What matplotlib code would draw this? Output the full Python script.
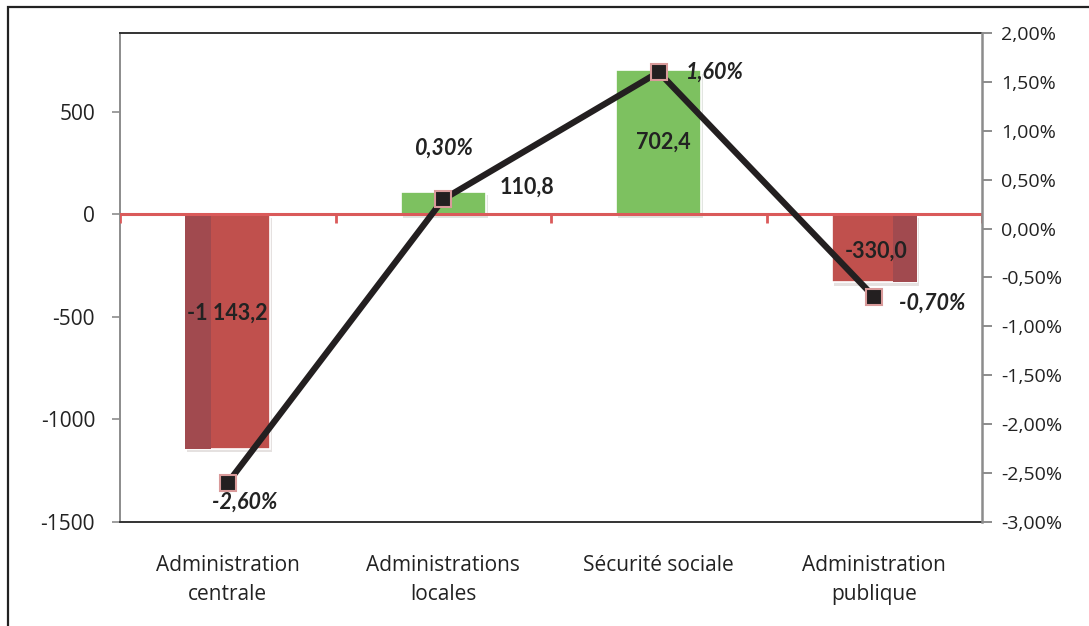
import matplotlib
matplotlib.use("Agg")
import matplotlib.pyplot as plt
import matplotlib.patheffects as pe
from matplotlib.patches import Rectangle

categories = ["Administration\ncentrale", "Administrations\nlocales",
              "Sécurité sociale", "Administration\npublique"]
montants = [-1143.2, 110.8, 702.4, -330.0]
montant_labels = ["-1 143,2", "110,8", "702,4", "-330,0"]
taux = [-2.60, 0.30, 1.60, -0.70]
taux_labels = ["-2,60%", "0,30%", "1,60%", "-0,70%"]
left_ticks = [500, 0, -500, -1000, -1500]
left_tick_labels = ["500", "0", "-500", "-1000", "-1500"]
right_ticks = [2.0, 1.5, 1.0, 0.5, 0.0, -0.5, -1.0, -1.5, -2.0, -2.5, -3.0]

RED = "#C0504D"
RED_DARK = "#A14A4F"
GREEN = "#7DC160"
AXIS_RED = "#DA5A5A"

plt.rcParams["font.family"] = ["Open Sans", "DejaVu Sans"]

fig = plt.figure(figsize=(10.89, 6.26), dpi=100)
# cadre extérieur
fig.patches.append(Rectangle((8 / 1089, -0.05), 1.1, 1 - 7 / 626 + 0.05,
                             transform=fig.transFigure, fill=False,
                             edgecolor="#222222", linewidth=1.6))

ax = fig.add_axes([120 / 1089, 1 - 522 / 626, 862 / 1089, 489 / 626])
ax2 = ax.twinx()
ax.set_zorder(ax2.get_zorder() - 1)
ax.patch.set_visible(True)
ax2.patch.set_visible(False)

x = list(range(len(categories)))
width = 0.395
colors = [GREEN if v > 0 else RED for v in montants]
shadow = [pe.SimplePatchShadow(offset=(1.5, -2.5), alpha=0.13), pe.Normal()]
bars = ax.bar(x, montants, width=width, color=colors, edgecolor="white",
              linewidth=1.2, zorder=2)
for b in bars:
    b.set_path_effects(shadow)
# parties plus sombres des barres rouges
ax.bar(x[0] - width / 2 + 0.06, montants[0], width=0.12, color=RED_DARK, zorder=2.1)
ax.bar(x[3] + width / 2 - 0.055, montants[3], width=0.11, color=RED_DARK, zorder=2.1)

ax.set_xlim(-0.5, 3.5)
ax.set_ylim(-1500, 885)
ax.set_yticks(left_ticks)
ax.set_yticklabels(left_tick_labels, fontsize=15, color="#222222")
ax.tick_params(axis="y", length=6, width=1.2, color="#8C8C8C", pad=12)
ax.set_xticks(x)
ax.set_xticklabels(categories, fontsize=15, color="#222222", linespacing=1.45)
ax.tick_params(axis="x", length=0, pad=24)

ax.axhline(0, color=AXIS_RED, linewidth=2.2, zorder=3)
ax.vlines([-0.5, 0.5, 1.5, 2.5, 3.5], -40, 0, color=AXIS_RED, linewidth=2, zorder=3)

for side in ["top", "bottom"]:
    ax.spines[side].set_color("#333333")
    ax.spines[side].set_linewidth(1.4)
ax.spines["left"].set_color("#8C8C8C")
ax.spines["left"].set_linewidth(1.4)
for side in ["top", "bottom", "left"]:
    ax2.spines[side].set_visible(False)
ax.spines["right"].set_visible(False)
ax2.spines["right"].set_color("#8C8C8C")
ax2.spines["right"].set_linewidth(1.8)

ax2.plot(x, taux, color="#231F20", linewidth=4.5, marker="s", markersize=11,
         markerfacecolor="#231F20", markeredgecolor="#D99A9A",
         markeredgewidth=1.5, zorder=5, solid_capstyle="round")
ax2.set_ylim(-3.0, 2.0)
ax2.set_yticks(right_ticks)
ax2.set_yticklabels([("%.2f%%" % t).replace(".", ",") for t in right_ticks],
                    fontsize=14, color="#222222")
ax2.tick_params(axis="y", length=7, width=1.4, color="#8C8C8C", pad=7)

lab_font = dict(fontfamily=["Lato", "DejaVu Sans"], fontweight="bold",
                fontsize=15.5, color="#222222")
ax.text(x[0], montants[0] * 0.42, montant_labels[0], ha="center", va="center", **lab_font)
ax.text(x[1] + 0.39, montants[1] + 20, montant_labels[1], ha="center", va="center", **lab_font)
ax.text(x[2] + 0.02, montants[2] * 0.5, montant_labels[2], ha="center", va="center", **lab_font)
ax.text(x[3] + 0.01, montants[3] * 0.55, montant_labels[3], ha="center", va="center", **lab_font)

pct_font = dict(lab_font, fontstyle="italic")
ax2.text(x[0] + 0.08, taux[0] - 0.2, taux_labels[0], ha="center", va="center", **pct_font)
ax2.text(x[1], taux[1] + 0.52, taux_labels[1], ha="center", va="center", **pct_font)
ax2.text(x[2] + 0.26, taux[2], taux_labels[2], ha="center", va="center", **pct_font)
ax2.text(x[3] + 0.27, taux[3] - 0.06, taux_labels[3], ha="center", va="center", **pct_font)

fig.savefig("out.png", dpi=100)
